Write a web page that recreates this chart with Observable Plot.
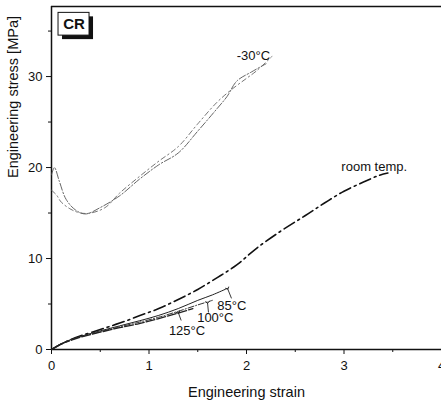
<!DOCTYPE html>
<html><head><meta charset="utf-8">
<script src="https://cdn.jsdelivr.net/npm/d3@7"></script>
<script src="https://cdn.jsdelivr.net/npm/@observablehq/plot@0.6"></script>
<style>body{margin:0;background:#fff}svg{display:block}</style>
</head><body><div id="chart"></div>
<script>
// ---- data ----
const xMajorTicks = [0, 1, 2, 3, 4];
const xMinorTicks = [0.5, 1.5, 2.5, 3.5];
const yMajorTicks = [0, 10, 20, 30];
const yMinorTicks = [5, 15, 25, 35];

const strainM30a = [0, 0.03, 0.08, 0.15, 0.25, 0.35, 0.5, 0.7, 0.9, 1.1, 1.3, 1.5, 1.7, 1.8, 1.9, 2.05, 2.2];
const stressM30a = [19.2, 20.0, 18.5, 16.5, 15.3, 14.9, 15.6, 16.9, 18.7, 20.3, 21.6, 24.0, 26.5, 27.8, 29.5, 30.5, 31.4];
const strainM30b = [0, 0.05, 0.1, 0.2, 0.3, 0.4, 0.55, 0.7, 0.9, 1.1, 1.3, 1.5, 1.7, 1.85, 2.0, 2.1, 2.26];
const stressM30b = [17.5, 17.0, 16.2, 15.4, 15.0, 15.0, 15.6, 17.2, 19.0, 20.7, 22.3, 24.8, 27.2, 28.6, 29.8, 30.6, 32.2];

const strainRT = [0, 0.1, 0.2, 0.3, 0.5, 0.7, 0.9, 1.1, 1.3, 1.5, 1.7, 1.9, 2.1, 2.35, 2.6, 2.8, 3.0, 3.2, 3.35, 3.45];
const stressRT = [0, 0.6, 1.1, 1.5, 2.2, 2.9, 3.7, 4.5, 5.5, 6.6, 7.9, 9.3, 11.1, 13.0, 14.7, 16.1, 17.4, 18.4, 19.1, 19.4];

const strain85 = [0, 0.1, 0.2, 0.3, 0.5, 0.7, 0.9, 1.1, 1.3, 1.5, 1.65, 1.8];
const stress85 = [0, 0.65, 1.1, 1.45, 2.05, 2.6, 3.15, 3.75, 4.5, 5.4, 6.0, 6.7];
const strain100 = [0, 0.1, 0.2, 0.3, 0.5, 0.7, 0.9, 1.1, 1.3, 1.5, 1.65];
const stress100 = [0, 0.6, 1.05, 1.4, 1.95, 2.5, 3.0, 3.55, 4.2, 4.9, 5.4];
const strain125 = [0, 0.1, 0.2, 0.3, 0.5, 0.7, 0.9, 1.1, 1.3, 1.45];
const stress125 = [0, 0.6, 1.0, 1.35, 1.9, 2.4, 2.85, 3.4, 4.0, 4.5];

const labelTexts = ["-30°C", "room temp.", "85°C", "100°C", "125°C"];
const labelX = [2.07, 3.31, 1.85, 1.68, 1.39];
const labelY = [32.3, 20.1, 4.85, 3.45, 2.1];

const leaderX1 = [1.805, 1.60, 1.30];
const leaderY1 = [6.72, 5.17, 4.07];
const leaderX2 = [1.846, 1.61, 1.33];
const leaderY2 = [5.62, 4.07, 3.19];

const xTitle = "Engineering strain";
const yTitle = "Engineering stress [MPa]";
const tagText = "CR";

const xDomain = [0, 4];
const yDomain = [0, 37.7];

// ---- build tables ----
const zip = (xs, ys) => xs.map((x, i) => ({x, y: ys[i]}));
const curves = [
  {data: zip(strainM30a, stressM30a), dash: "7,2,1.5,2", sw: 0.9, stroke: "#555"},
  {data: zip(strainM30b, stressM30b), dash: "5,3,1.5,3", sw: 0.9, stroke: "#666"},
  {data: zip(strainRT, stressRT), dash: "12,4,2,4", sw: 1.6, stroke: "#111"},
  {data: zip(strain85, stress85), dash: "none", sw: 1.0, stroke: "#222"},
  {data: zip(strain100, stress100), dash: "6,2,1,2", sw: 1.0, stroke: "#333"},
  {data: zip(strain125, stress125), dash: "9,2", sw: 1.3, stroke: "#222"}
];
const labels = labelTexts.map((t, i) => ({t, x: labelX[i], y: labelY[i]}));
const leaders = leaderX1.map((x1, i) => ({x1, y1: leaderY1[i], x2: leaderX2[i], y2: leaderY2[i]}));

const font = "'Liberation Sans', Arial, sans-serif";

const chart = Plot.plot({
  width: 441,
  height: 407,
  marginLeft: 51,
  marginRight: 0,
  marginTop: 6,
  marginBottom: 58,
  style: {fontFamily: font, fontSize: "13px", background: "#fff", color: "#111"},
  x: {domain: xDomain},
  y: {domain: yDomain},
  marks: [
    Plot.axisX({ticks: xMajorTicks, tickSize: 5, tickPadding: 6, tickFormat: d3.format("d"), label: null, fontSize: 13}),
    Plot.axisX({ticks: xMinorTicks, tickSize: 3, tickFormat: () => "", label: null}),
    Plot.axisY({ticks: yMajorTicks, tickSize: 5, tickPadding: 4, tickFormat: d3.format("d"), label: null, fontSize: 13}),
    Plot.axisY({ticks: yMinorTicks, tickSize: 3, tickFormat: () => "", label: null}),
    Plot.text([xTitle], {frameAnchor: "bottom", dy: 47, fontSize: 14.5, fill: "#111", fontFamily: font}),
    Plot.text([yTitle], {frameAnchor: "left", dx: -38, rotate: -90, fontSize: 14.5, fill: "#111", fontFamily: font}),
    Plot.ruleY([yDomain[0]], {stroke: "#111", strokeWidth: 1.5}),
    Plot.ruleY([yDomain[1]], {stroke: "#111", strokeWidth: 1.5}),
    Plot.ruleX([xDomain[0]], {stroke: "#111", strokeWidth: 1.5}),
    ...curves.map(c => Plot.line(c.data, {x: "x", y: "y", stroke: c.stroke, strokeWidth: c.sw,
      strokeDasharray: c.dash, curve: "catmull-rom"})),
    Plot.link(leaders, {x1: "x1", y1: "y1", x2: "x2", y2: "y2", stroke: "#222", strokeWidth: 0.9,
      markerStart: "arrow"}),
    Plot.text(labels, {x: "x", y: "y", text: "t", fontSize: 13, fill: "#111", fontFamily: font}),
    // "CR" tag box with shadow
    Plot.rect([{x1: 0.072, x2: 0.39, y1: 34.5, y2: 37.0}], {x1: "x1", x2: "x2", y1: "y1", y2: "y2",
      fill: "#111", dx: 4, dy: 4}),
    Plot.rect([{x1: 0.072, x2: 0.39, y1: 34.5, y2: 37.0}], {x1: "x1", x2: "x2", y1: "y1", y2: "y2",
      fill: "#fff", stroke: "#111", strokeWidth: 1}),
    Plot.text([tagText], {x: 0.231, y: 35.75, fontSize: 15,
      fontWeight: "bold", fill: "#111", fontFamily: font})
  ]
});
document.getElementById("chart").appendChild(chart);
</script>
</body></html>
